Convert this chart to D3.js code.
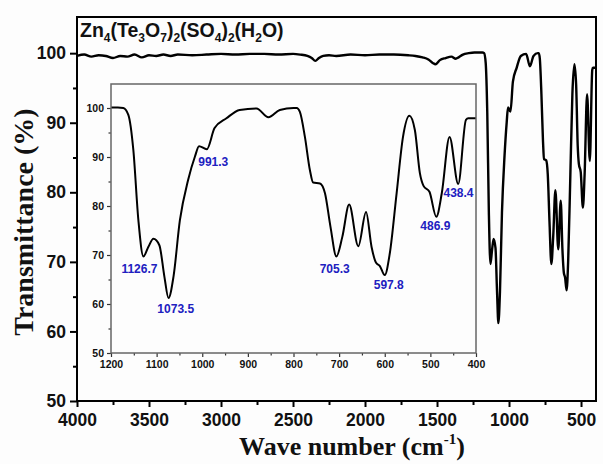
<!DOCTYPE html>
<html>
<head>
<meta charset="utf-8">
<script src="https://cdn.jsdelivr.net/npm/d3@7"></script>
<style>
  body { margin: 0; background: #fff; }
  svg { display: block; }
</style>
</head>
<body>
<script>
// high wavenumber part of the spectrum (only in the main plot)
const highWn = [4000, 3950, 3900, 3850, 3800, 3750, 3700, 3650, 3600, 3550, 3500, 3450, 3400, 3350, 3300,
  3200, 3100, 3000, 2900, 2800, 2700, 2600, 2500, 2450, 2400, 2370, 2345, 2320, 2290, 2250, 2200,
  2100, 2000, 1900, 1800, 1700, 1650, 1600, 1560, 1530, 1510, 1480, 1440, 1400, 1370, 1350, 1320,
  1280, 1240, 1210];
const highT = [99.6, 99.8, 99.5, 99.7, 99.6, 99.3, 99.6, 99.5, 99.8, 99.4, 99.7, 99.6, 99.8, 99.6, 99.8,
  99.7, 99.8, 99.9, 99.8, 99.9, 99.9, 99.8, 99.9, 99.8, 99.6, 99.3, 98.9, 99.3, 99.6, 99.7, 99.6,
  99.8, 99.7, 99.8, 99.8, 99.7, 99.6, 99.4, 99.1, 98.6, 98.4, 99.0, 99.3, 99.5, 99.2, 99.4, 99.8,
  100.0, 100.1, 100.1];

// fingerprint region, 1200 - 400 cm-1 (main plot and inset)
const lowWn = [1200, 1185, 1173, 1162, 1151, 1140, 1129, 1118, 1107, 1094, 1083, 1074, 1063, 1049, 1031,
  1016, 1007, 990, 973, 947, 918, 881, 855, 830, 800, 793, 786, 775, 764, 757, 742, 731, 719, 706,
  693, 678, 658, 641, 629, 619, 611, 600, 589, 574, 560, 546, 534, 523, 515, 502, 487, 475, 458,
  439, 422, 417, 400];
const lowT = [100.1, 100.1, 100.0, 98.6, 91.4, 77.1, 69.7, 71.7, 73.3, 72.0, 65.6, 61.2, 65.6, 77.1, 85.3,
  90.1, 92.2, 91.6, 95.9, 97.9, 99.6, 99.9, 98.1, 99.6, 100.0, 100.0, 99.2, 94.1, 87.3, 84.8, 84.6, 82.6, 75.8, 69.7,
  73.7, 80.3, 71.8, 78.8, 71.7, 68.4, 67.8, 65.9, 70.3, 82.6, 94.1, 98.4, 95.5, 86.7, 84.1, 82.9, 77.8, 82.6, 94.1,
  84.5, 97.6, 97.9, 97.9];

// labelled bands in the inset
const peakWn = [1126.7, 1073.5, 991.3, 705.3, 597.8, 486.9, 438.4];
const peakT = [69.6, 61.2, 91.6, 69.7, 65.9, 77.8, 84.5];

const mainXTicks = [4000, 3500, 3000, 2500, 2000, 1500, 1000, 500];
const mainYTicks = [50, 60, 70, 80, 90, 100];
const insetXTicks = [1200, 1100, 1000, 900, 800, 700, 600, 500, 400];
const insetYTicks = [50, 60, 70, 80, 90, 100];

const W = 603, H = 464;
const svg = d3.select('body').append('svg')
  .attr('width', W)
  .attr('height', H)
  .style('font-family', 'Arial, "Liberation Sans", sans-serif');

svg.append('rect').attr('width', W).attr('height', H).attr('fill', '#fdfdfd');

const spectrum = highWn.map((w, i) => [w, highT[i]])
  .concat(lowWn.map((w, i) => [w, lowT[i]]));
const fingerprint = lowWn.map((w, i) => [w, lowT[i]]);
const fmt = d3.format('d');

/* ---- main plot ---- */
const m = { left: 77, top: 17, right: 596, bottom: 401 };
const x = d3.scaleLinear().domain([4000, 396]).range([m.left, m.right]);
const y = d3.scaleLinear().domain([50, 105.2]).range([m.bottom, m.top]);

const xAxis = svg.append('g')
  .attr('transform', `translate(0,${m.bottom})`)
  .call(d3.axisBottom(x).tickValues(mainXTicks).tickFormat(fmt).tickSize(6).tickPadding(7).tickSizeOuter(0));
svg.append('g')
  .attr('transform', `translate(0,${m.bottom})`)
  .call(d3.axisBottom(x).tickValues(d3.range(3750, 500, -500)).tickSize(4).tickFormat('').tickSizeOuter(0));
const yAxis = svg.append('g')
  .attr('transform', `translate(${m.left},0)`)
  .call(d3.axisLeft(y).tickValues(mainYTicks).tickFormat(fmt).tickSize(7).tickPadding(4).tickSizeOuter(0));
svg.append('g')
  .attr('transform', `translate(${m.left},0)`)
  .call(d3.axisLeft(y).tickValues(d3.range(55, 100, 10)).tickSize(4).tickFormat('').tickSizeOuter(0));

svg.selectAll('.domain').remove();
svg.selectAll('.tick line').attr('stroke', '#000').attr('stroke-width', 2);
xAxis.selectAll('text').attr('font-size', 17.5).attr('font-weight', 'bold').attr('fill', '#111');
yAxis.selectAll('text').attr('font-size', 17.5).attr('font-weight', 'bold').attr('fill', '#111');

const line = d3.line()
  .x(d => x(d[0]))
  .y(d => y(d[1]))
  .curve(d3.curveMonotoneX);

svg.append('path')
  .datum(spectrum)
  .attr('fill', 'none')
  .attr('stroke', '#000')
  .attr('stroke-width', 2.4)
  .attr('d', line);

svg.append('rect')
  .attr('x', m.left).attr('y', m.top)
  .attr('width', m.right - m.left).attr('height', m.bottom - m.top)
  .attr('fill', 'none').attr('stroke', '#000').attr('stroke-width', 2);

// compound label
const title = svg.append('text')
  .attr('x', 80).attr('y', 37)
  .attr('font-size', 19.5).attr('font-weight', 'bold').attr('fill', '#111');
const parts = [['Zn', 0], ['4', 1], ['(Te', 0], ['3', 1], ['O', 0], ['7', 1], [')', 0], ['2', 1],
  ['(SO', 0], ['4', 1], [')', 0], ['2', 1], ['(H', 0], ['2', 1], ['O)', 0]];
let prevSub = false;
parts.forEach(([t, sub]) => {
  const ts = title.append('tspan').text(t);
  if (sub) ts.attr('font-size', 12).attr('dy', prevSub ? 0 : 5);
  else if (prevSub) ts.attr('dy', -5);
  prevSub = !!sub;
});

// axis titles
const xt = svg.append('text')
  .attr('x', 352).attr('y', 455)
  .attr('text-anchor', 'middle')
  .attr('font-family', '"Liberation Serif", "Times New Roman", serif')
  .attr('font-weight', 'bold').attr('font-size', 26).attr('fill', '#111');
xt.append('tspan').text('Wave number (cm');
xt.append('tspan').text('-1').attr('font-size', 15).attr('dy', -11);
xt.append('tspan').text(')').attr('dy', 11);

svg.append('text')
  .attr('transform', 'translate(33,222) rotate(-90)')
  .attr('text-anchor', 'middle')
  .attr('font-family', '"Liberation Serif", "Times New Roman", serif')
  .attr('font-weight', 'bold').attr('font-size', 28).attr('fill', '#111')
  .text('Transmittance (%)');

/* ---- inset ---- */
const im = { left: 111, top: 84, right: 476, bottom: 353 };
const ix = d3.scaleLinear().domain([1200, 400]).range([im.left, im.right]);
const iy = d3.scaleLinear().domain([50, 104.9]).range([im.bottom, im.top]);

const inset = svg.append('g');
inset.append('g')
  .attr('transform', `translate(0,${im.bottom})`)
  .call(d3.axisBottom(ix).tickValues(insetXTicks).tickFormat(fmt).tickSize(4).tickPadding(4).tickSizeOuter(0));
inset.append('g')
  .attr('transform', `translate(0,${im.bottom})`)
  .call(d3.axisBottom(ix).tickValues(d3.range(1150, 400, -100)).tickSize(2.5).tickFormat('').tickSizeOuter(0));
inset.append('g')
  .attr('transform', `translate(${im.left},0)`)
  .call(d3.axisLeft(iy).tickValues(insetYTicks).tickFormat(fmt).tickSize(4).tickPadding(3).tickSizeOuter(0));
inset.append('g')
  .attr('transform', `translate(${im.left},0)`)
  .call(d3.axisLeft(iy).tickValues(d3.range(55, 101, 10)).tickSize(2.5).tickFormat('').tickSizeOuter(0));

inset.selectAll('.domain').remove();
inset.selectAll('.tick line').attr('stroke', '#333').attr('stroke-width', 1.2);
inset.selectAll('.tick text').attr('font-size', 10.5).attr('font-weight', 'bold').attr('fill', '#111');

const iline = d3.line()
  .x(d => ix(d[0]))
  .y(d => iy(d[1]))
  .curve(d3.curveMonotoneX);

inset.append('path')
  .datum(fingerprint)
  .attr('fill', 'none')
  .attr('stroke', '#000')
  .attr('stroke-width', 2)
  .attr('d', iline);

inset.append('rect')
  .attr('x', im.left).attr('y', im.top)
  .attr('width', im.right - im.left).attr('height', im.bottom - im.top)
  .attr('fill', 'none').attr('stroke', '#666').attr('stroke-width', 1.5);

// peak labels, nudged below each band minimum
const nudge = [[-5, 12], [7, 11], [7, 13], [-2, 12.5], [3, 10], [-1, 9], [0, 9]];
inset.selectAll('.peak')
  .data(peakWn)
  .enter()
  .append('text')
    .attr('class', 'peak')
    .attr('x', (d, i) => ix(d) + nudge[i][0])
    .attr('y', (d, i) => iy(peakT[i]) + nudge[i][1])
    .attr('text-anchor', 'middle')
    .attr('dominant-baseline', 'central')
    .attr('font-size', 12)
    .attr('font-weight', 'bold')
    .attr('fill', '#2020c0')
    .text(d => d.toFixed(1));
</script>
</body>
</html>
